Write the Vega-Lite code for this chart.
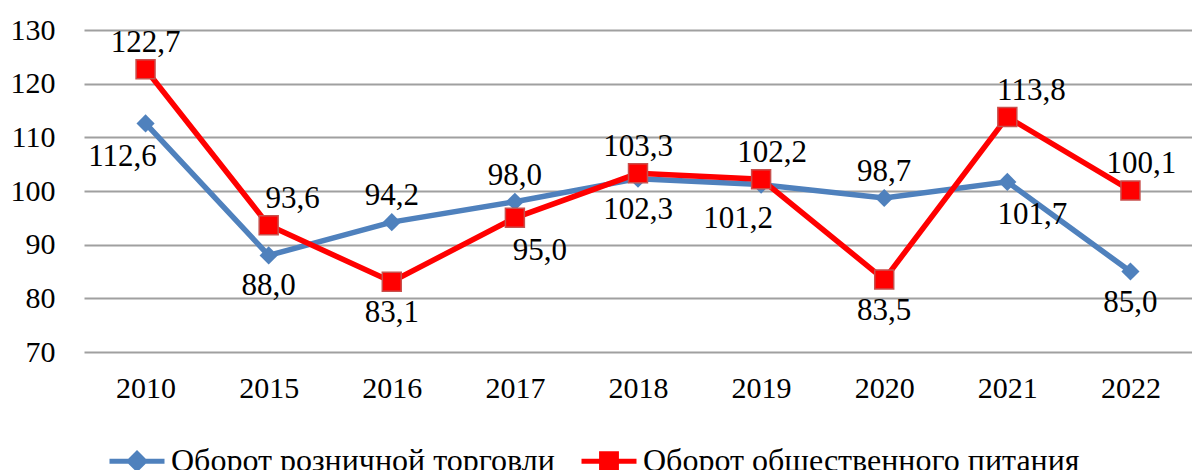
{
  "$schema": "https://vega.github.io/schema/vega-lite/v6.json",
  "width": 1108,
  "height": 322,
  "autosize": "none",
  "padding": {"left": 84, "top": 30, "right": 0, "bottom": 118},
  "background": "white",
  "config": {
    "locale": {"number": {"decimal": ",", "thousands": " ", "grouping": [3], "currency": ["", ""]}},
    "view": {"stroke": null},
    "font": "Liberation Serif",
    "axis": {"labelFont": "Liberation Serif", "labelFontSize": 30, "labelColor": "#000000"},
    "legend": {"labelFont": "Liberation Serif", "labelFontSize": 32, "labelColor": "#000000", "labelLimit": 0}
  },
  "data": {
    "values": [
      {"year": "2010", "series": "Оборот розничной торговли", "value": 112.6},
      {"year": "2015", "series": "Оборот розничной торговли", "value": 88.0},
      {"year": "2016", "series": "Оборот розничной торговли", "value": 94.2},
      {"year": "2017", "series": "Оборот розничной торговли", "value": 98.0},
      {"year": "2018", "series": "Оборот розничной торговли", "value": 102.3},
      {"year": "2019", "series": "Оборот розничной торговли", "value": 101.2},
      {"year": "2020", "series": "Оборот розничной торговли", "value": 98.7},
      {"year": "2021", "series": "Оборот розничной торговли", "value": 101.7},
      {"year": "2022", "series": "Оборот розничной торговли", "value": 85.0},
      {"year": "2010", "series": "Оборот общественного питания", "value": 122.7},
      {"year": "2015", "series": "Оборот общественного питания", "value": 93.6},
      {"year": "2016", "series": "Оборот общественного питания", "value": 83.1},
      {"year": "2017", "series": "Оборот общественного питания", "value": 95.0},
      {"year": "2018", "series": "Оборот общественного питания", "value": 103.3},
      {"year": "2019", "series": "Оборот общественного питания", "value": 102.2},
      {"year": "2020", "series": "Оборот общественного питания", "value": 83.5},
      {"year": "2021", "series": "Оборот общественного питания", "value": 113.8},
      {"year": "2022", "series": "Оборот общественного питания", "value": 100.1}
    ]
  },
  "encoding": {
    "x": {
      "field": "year", "type": "ordinal", "title": null,
      "scale": {"type": "point", "padding": 0.5},
      "axis": {"labelAngle": 0, "ticks": false, "domain": false, "grid": false, "labelPadding": 21}
    },
    "y": {
      "field": "value", "type": "quantitative", "title": null,
      "scale": {"domain": [70, 130], "nice": false, "zero": false},
      "axis": {"values": [70, 80, 90, 100, 110, 120, 130], "ticks": false, "domain": false, "labelPadding": 29,
               "gridColor": "#a0a0a0", "gridWidth": 2, "gridOpacity": 1}
    }
  },
  "layer": [
    {
      "mark": {"type": "line", "strokeWidth": 5.5},
      "encoding": {
        "color": {
          "field": "series", "type": "nominal",
          "scale": {"domain": ["Оборот розничной торговли", "Оборот общественного питания"], "range": ["#4f81bd", "#ff0000"]},
          "legend": {
            "orient": "none", "legendX": 23, "legendY": 401, "direction": "horizontal", "title": null,
            "symbolSize": 3025, "symbolStrokeWidth": 5, "labelOffset": 4, "columnPadding": 16, "symbolType": "M-1,0H1M0,-0.28L0.28,0L0,0.28L-0.28,0Z",
            "encode": {
              "symbols": {
                "update": {
                  "shape": {"signal": "datum.value === 'Оборот розничной торговли' ? 'M-1,0H1M0,-0.28L0.28,0L0,0.28L-0.28,0Z' : 'M-1,0H1M-0.27,-0.27H0.27V0.27H-0.27Z'"},
                  "size": {"value": 3025},
                  "fill": {"scale": "color", "field": "value"},
                  "stroke": {"scale": "color", "field": "value"},
                  "strokeWidth": {"value": 5},
                  "opacity": {"value": 1},
                  "fillOpacity": {"value": 1}
                }
              }
            }
          }
        }
      }
    },
    {
      "transform": [{"filter": "datum.series === 'Оборот розничной торговли'"}],
      "mark": {"type": "point", "filled": true, "opacity": 1, "shape": "diamond", "size": 330, "color": "#4f81bd"}
    },
    {
      "transform": [{"filter": "datum.series === 'Оборот общественного питания'"}],
      "mark": {"type": "point", "filled": true, "opacity": 1, "shape": "square", "size": 360, "color": "#ff0000", "stroke": "#c8504d", "strokeWidth": 1.5}
    },
    {
      "transform": [{"filter": "(datum.series === 'Оборот общественного питания' && (datum.year === '2010' || datum.year === '2018')) || (datum.series === 'Оборот розничной торговли' && (datum.year === '2016' || datum.year === '2017' || datum.year === '2020'))"}],
      "mark": {"type": "text", "fontSize": 31, "baseline": "middle", "dy": -26, "color": "#000000"},
      "encoding": {"text": {"field": "value", "type": "quantitative", "format": ".1f"}}
    },
    {
      "transform": [{"filter": "datum.series === 'Оборот общественного питания' && (datum.year === '2015' || datum.year === '2021')"}],
      "mark": {"type": "text", "fontSize": 31, "baseline": "middle", "dy": -26, "dx": 24, "color": "#000000"},
      "encoding": {"text": {"field": "value", "type": "quantitative", "format": ".1f"}}
    },
    {
      "transform": [{"filter": "datum.series === 'Оборот общественного питания' && (datum.year === '2019' || datum.year === '2022')"}],
      "mark": {"type": "text", "fontSize": 31, "baseline": "middle", "dy": -26, "dx": 11, "color": "#000000"},
      "encoding": {"text": {"field": "value", "type": "quantitative", "format": ".1f"}}
    },
    {
      "transform": [{"filter": "(datum.series === 'Оборот общественного питания' && (datum.year === '2016' || datum.year === '2020')) || (datum.series === 'Оборот розничной торговли' && (datum.year === '2015' || datum.year === '2018' || datum.year === '2022'))"}],
      "mark": {"type": "text", "fontSize": 31, "baseline": "middle", "dy": 31, "color": "#000000"},
      "encoding": {"text": {"field": "value", "type": "quantitative", "format": ".1f"}}
    },
    {
      "transform": [{"filter": "(datum.series === 'Оборот общественного питания' && datum.year === '2017') || (datum.series === 'Оборот розничной торговли' && datum.year === '2021')"}],
      "mark": {"type": "text", "fontSize": 31, "baseline": "middle", "dy": 33, "dx": 25, "color": "#000000"},
      "encoding": {"text": {"field": "value", "type": "quantitative", "format": ".1f"}}
    },
    {
      "transform": [{"filter": "datum.series === 'Оборот розничной торговли' && (datum.year === '2010' || datum.year === '2019')"}],
      "mark": {"type": "text", "fontSize": 31, "baseline": "middle", "dy": 34, "dx": -23, "color": "#000000"},
      "encoding": {"text": {"field": "value", "type": "quantitative", "format": ".1f"}}
    }
  ]
}
